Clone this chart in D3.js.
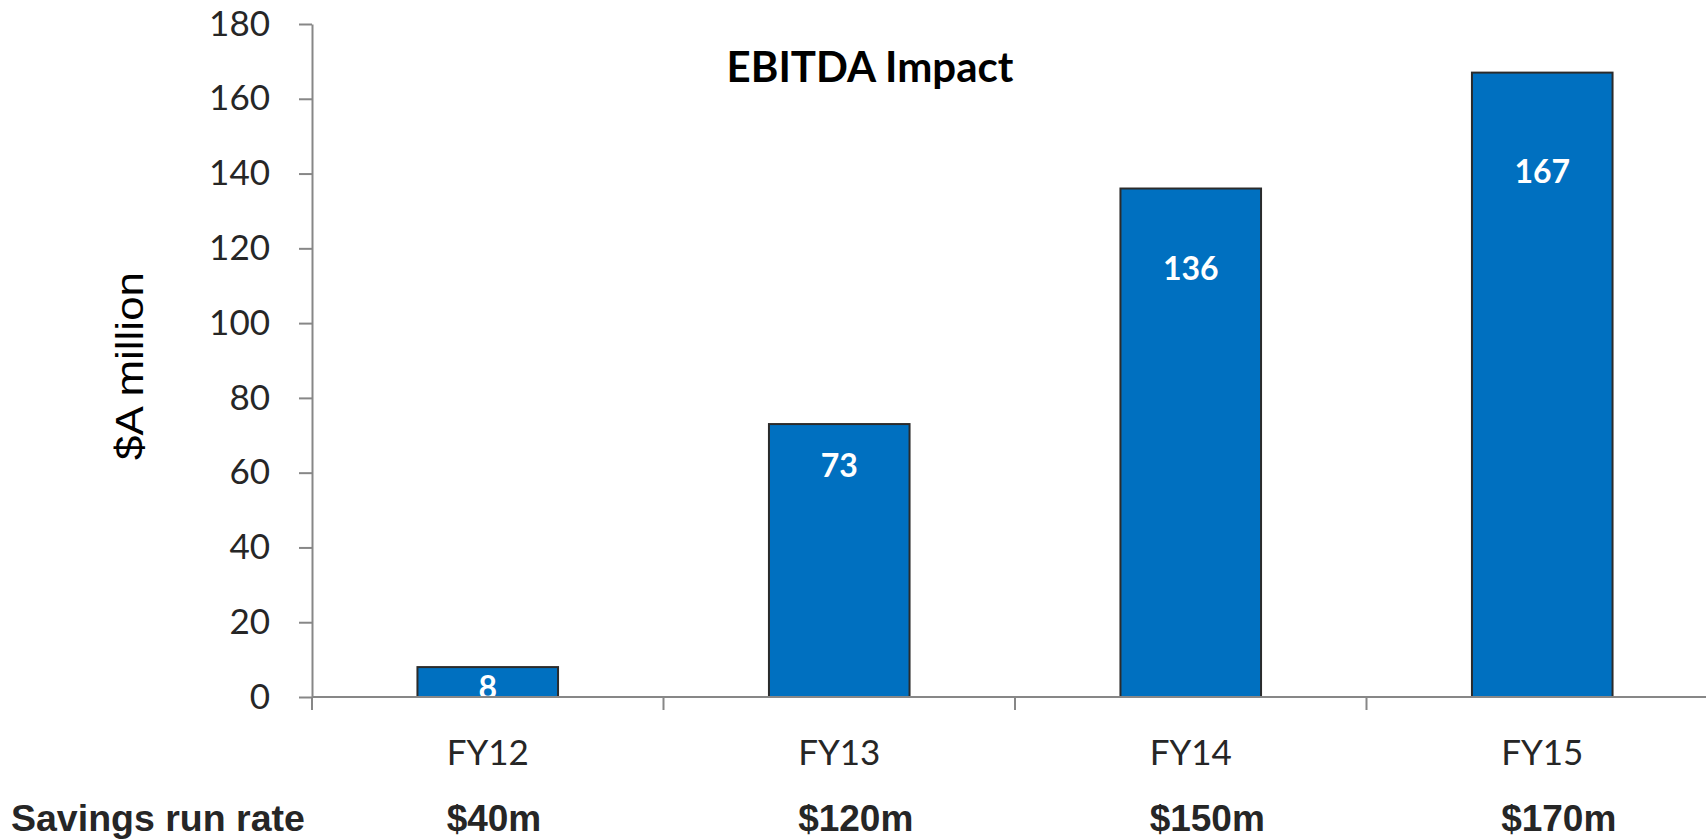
<!DOCTYPE html>
<html>
<head>
<meta charset="utf-8">
<script src="https://cdn.jsdelivr.net/npm/d3@7"></script>
<style>
  html, body { margin: 0; padding: 0; background: #fff; }
  svg { display: block; }
</style>
</head>
<body>
<div id="chart"></div>
<script>
// chart data
const categories = ["FY12", "FY13", "FY14", "FY15"];
const ebitda = [8, 73, 136, 167];
const savingsRunRate = ["$40m", "$120m", "$150m", "$170m"];
const yTicks = [0, 20, 40, 60, 80, 100, 120, 140, 160, 180];

const width = 1706;
const height = 840;

// plot area
const margin = { top: 24, left: 312, bottom: 697 };
const step = 351.5;

const svg = d3.select("#chart")
  .append("svg")
  .attr("width", width)
  .attr("height", height);

// scales
const x = d3.scaleBand()
  .domain(categories)
  .range([margin.left, margin.left + step * categories.length])
  .padding(0);

const y = d3.scaleLinear()
  .domain([0, 180])
  .range([margin.bottom, margin.top]);

const axisColor = "#878787";
const textColor = "#262626";
const calibri = "Lato, 'Open Sans', sans-serif";
const arial = "'Liberation Sans', Arial, sans-serif";

// bars
const barWidth = x.bandwidth() * 0.4;
const data = categories.map((c, i) => ({ cat: c, value: ebitda[i], rate: savingsRunRate[i] }));

svg.append("g")
  .selectAll("rect")
  .data(data)
  .enter()
  .append("rect")
  .attr("x", d => x(d.cat) + (x.bandwidth() - barWidth) / 2)
  .attr("y", d => y(d.value))
  .attr("width", barWidth)
  .attr("height", d => y(0) - y(d.value))
  .attr("fill", "#0070C0")
  .attr("stroke", "#2b2b2b")
  .attr("stroke-width", 2);

// value labels inside the bars, clipped at the axis
svg.append("clipPath")
  .attr("id", "plotClip")
  .append("rect")
  .attr("x", 0)
  .attr("y", 0)
  .attr("width", width)
  .attr("height", y(0));

svg.append("g")
  .attr("clip-path", "url(#plotClip)")
  .selectAll("text")
  .data(data)
  .enter()
  .append("text")
  .attr("x", d => x(d.cat) + x.bandwidth() / 2)
  .attr("y", d => {
    const h = y(0) - y(d.value);
    return y(d.value) + Math.max(h * 0.165 - 4, 20);
  })
  .attr("dy", "0.36em")
  .attr("text-anchor", "middle")
  .attr("fill", "#fff")
  .style("font-family", calibri)
  .style("font-weight", "bold")
  .style("font-size", "32px")
  .text(d => d.value);

// y axis
const yAxis = svg.append("g")
  .attr("transform", "translate(" + margin.left + ",0)")
  .call(d3.axisLeft(y).tickValues(yTicks).tickSize(13).tickSizeOuter(0).tickPadding(29));

yAxis.select(".domain").attr("stroke", axisColor).attr("stroke-width", 2);
yAxis.selectAll(".tick line").attr("stroke", axisColor).attr("stroke-width", 2);
yAxis.selectAll(".tick text")
  .attr("fill", textColor)
  .style("font-family", calibri)
  .style("font-size", "35px");

// x axis line and category ticks
svg.append("line")
  .attr("x1", margin.left)
  .attr("x2", width)
  .attr("y1", y(0))
  .attr("y2", y(0))
  .attr("stroke", axisColor)
  .attr("stroke-width", 2);

svg.append("g")
  .selectAll("line")
  .data(categories)
  .enter()
  .append("line")
  .attr("x1", d => x(d))
  .attr("x2", d => x(d))
  .attr("y1", y(0))
  .attr("y2", y(0) + 13)
  .attr("stroke", axisColor)
  .attr("stroke-width", 2);

const catLabels = svg.append("g")
  .selectAll("text")
  .data(data)
  .enter()
  .append("text")
  .attr("x", d => x(d.cat) + x.bandwidth() / 2)
  .attr("y", 765)
  .attr("text-anchor", "middle")
  .attr("fill", textColor)
  .style("font-family", calibri)
  .style("font-size", "35px")
  .text(d => d.cat);

// savings run rate row, left aligned with the category labels
svg.append("text")
  .attr("x", 11)
  .attr("y", 831)
  .attr("fill", textColor)
  .style("font-family", arial)
  .style("font-weight", "bold")
  .style("font-size", "37.5px")
  .text("Savings run rate");

catLabels.each(function (d) {
  const w = this.getComputedTextLength();
  svg.append("text")
    .attr("x", x(d.cat) + x.bandwidth() / 2 - w / 2)
    .attr("y", 831)
    .attr("fill", textColor)
    .style("font-family", arial)
    .style("font-weight", "bold")
    .style("font-size", "37px")
    .text(d.rate);
});

// title
svg.append("text")
  .attr("x", 870)
  .attr("y", 82)
  .attr("text-anchor", "middle")
  .attr("fill", "#000")
  .style("font-family", calibri)
  .style("font-weight", "bold")
  .style("font-size", "42px")
  .text("EBITDA Impact");

// y axis title
svg.append("text")
  .attr("transform", "translate(143,366) rotate(-90)")
  .attr("text-anchor", "middle")
  .attr("textLength", 188)
  .attr("lengthAdjust", "spacingAndGlyphs")
  .attr("fill", "#000")
  .style("font-family", arial)
  .style("font-size", "39px")
  .text("$A million");
</script>
</body>
</html>
